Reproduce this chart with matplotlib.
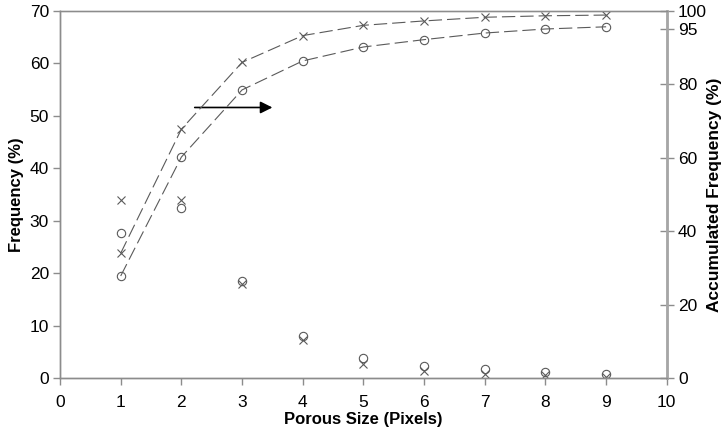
import numpy as np
import matplotlib.pyplot as plt

plt.rcParams['font.family'] = ['Liberation Sans', 'DejaVu Sans']

# pore size classes
size = np.arange(1, 10)

# frequency per class (%) for the two samples
freq_x = [34.0, 34.0, 17.9, 7.2, 2.7, 1.3, 0.7, 0.5, 0.2]
freq_o = [27.7, 32.4, 18.5, 8.0, 3.9, 2.2, 1.8, 1.2, 0.75]

# accumulated frequency (%)
acc_x = [34.0, 67.8, 86.0, 93.3, 96.1, 97.3, 98.3, 98.7, 98.9]
acc_o = [27.8, 60.2, 78.5, 86.4, 90.2, 92.2, 94.0, 95.1, 95.7]

grey = '#5a5a5a'
spine = '#8c8c8c'
dash = (0, (12, 4.5))

fig = plt.figure(figsize=(7.24, 4.32), dpi=100)
ax = fig.add_axes([0.0829, 0.125, 0.8381, 0.8495])
ax2 = ax.twinx()

ax.plot(size, freq_x, 'x', color=grey, ms=6, mew=0.8, ls='none')
ax.plot(size, freq_o, 'o', color=grey, ms=6, mew=0.8, mfc='none', ls='none')

ax2.plot(size, acc_x, 'x', color=grey, ms=6, mew=0.8, ls=dash, lw=0.8)
ax2.plot(size, acc_o, 'o', color=grey, ms=6, mew=0.8, mfc='none', ls=dash, lw=0.8)

# arrow pointing to the right-hand axis
ax.annotate('', xy=(3.5, 51.6), xytext=(2.22, 51.6),
            arrowprops=dict(arrowstyle='-|>', color='black', lw=1.2,
                            mutation_scale=18, shrinkA=0, shrinkB=0))

ax.set_xlim(0, 10)
ax.set_ylim(0, 70)
ax2.set_ylim(0, 100)
ax.set_xticks(range(0, 11))
ax.set_yticks(range(0, 71, 10))
ax2.set_yticks([0, 20, 40, 60, 80, 95, 100])

for a in (ax, ax2):
    for s in a.spines.values():
        s.set_color(spine)
        s.set_linewidth(1.0)
ax2.spines['right'].set_linewidth(2.0)
ax2.spines['right'].set_color('#a6a6a6')
ax.spines['top'].set_color('#b0b0b0')

ax.tick_params(axis='both', direction='out', length=5, width=1, color=spine,
               labelsize=12.5, pad=3)
ax2.tick_params(axis='y', direction='inout', length=10, width=1, color=spine,
                labelsize=12.5, pad=3)
ax.tick_params(axis='x', pad=7)

ax.set_xlabel('Porous Size (Pixels)', fontweight='bold', fontsize=12, labelpad=2)
ax.set_ylabel('Frequency (%)', fontweight='bold', fontsize=12, labelpad=4)
ax2.set_ylabel('Accumulated Frequency (%)', fontweight='bold', fontsize=12.5, labelpad=0)

fig.savefig('out.png', dpi=100)
